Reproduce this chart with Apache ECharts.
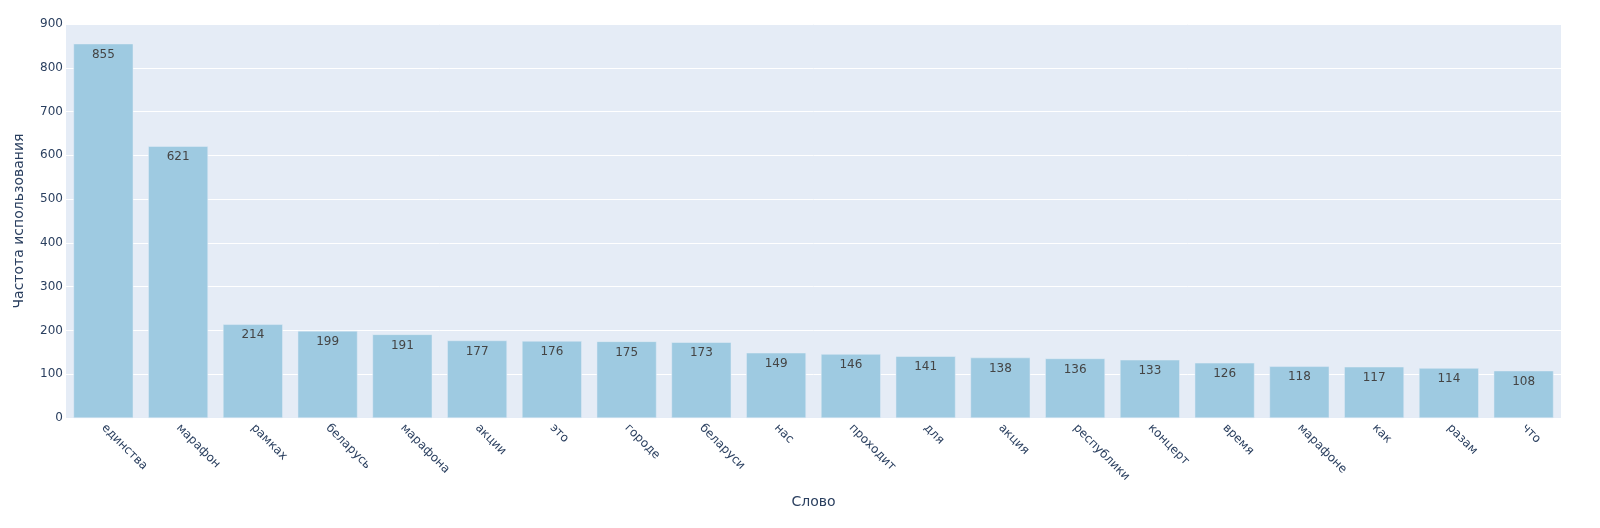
<!DOCTYPE html>
<html>
<head>
<meta charset="utf-8">
<script src="https://cdn.jsdelivr.net/npm/echarts@6/dist/echarts.min.js"></script>
<style>html,body{margin:0;padding:0;background:#fff}#c{width:1600px;height:528px}</style>
</head>
<body>
<div id="c"></div>
<script>
const words = ['единства','марафон','рамках','беларусь','марафона','акции','это','городе','беларуси','нас','проходит','для','акция','республики','концерт','время','марафоне','как','разам','что'];
const counts = [855,621,214,199,191,177,176,175,173,149,146,141,138,136,133,126,118,117,114,108];
const xTitle = 'Слово';
const yTitle = 'Частота использования';

const FONT = 'DejaVu Sans';
const chart = echarts.init(document.getElementById('c'), null, {renderer:'canvas'});
chart.setOption({
  animation: false,
  textStyle: {fontFamily: FONT},
  grid: {left: 66, right: 39, top: 24, bottom: 110, show: true, backgroundColor: '#e5ecf6', borderWidth: 0, containLabel: false},
  xAxis: {
    type: 'category', data: words,
    name: xTitle, nameLocation: 'middle', nameGap: 77,
    nameTextStyle: {fontFamily: FONT, fontSize: 14, color: '#2a3f5f'},
    axisLine: {show: false}, axisTick: {show: false},
    axisLabel: {rotate: -45, fontFamily: FONT, fontSize: 12, color: '#2a3f5f', margin: 8, interval: 0},
    splitLine: {show: false}
  },
  yAxis: {
    type: 'value', min: 0, max: 900, interval: 100,
    name: yTitle, nameLocation: 'middle', nameGap: 40,
    nameTextStyle: {fontFamily: FONT, fontSize: 14, color: '#2a3f5f'},
    axisLine: {show: false}, axisTick: {show: false},
    axisLabel: {fontFamily: FONT, fontSize: 12, color: '#2a3f5f', margin: 3},
    splitLine: {show: true, lineStyle: {color: '#ffffff', width: 1}}
  },
  series: [{
    type: 'bar', data: counts, barCategoryGap: '20%',
    itemStyle: {color: '#9ecae1', borderColor: '#e5ecf6', borderWidth: 0.5},
    label: {show: true, position: 'insideTop', distance: 5, fontFamily: FONT, fontSize: 12, color: '#444444'}
  }]
});
</script>
</body>
</html>
